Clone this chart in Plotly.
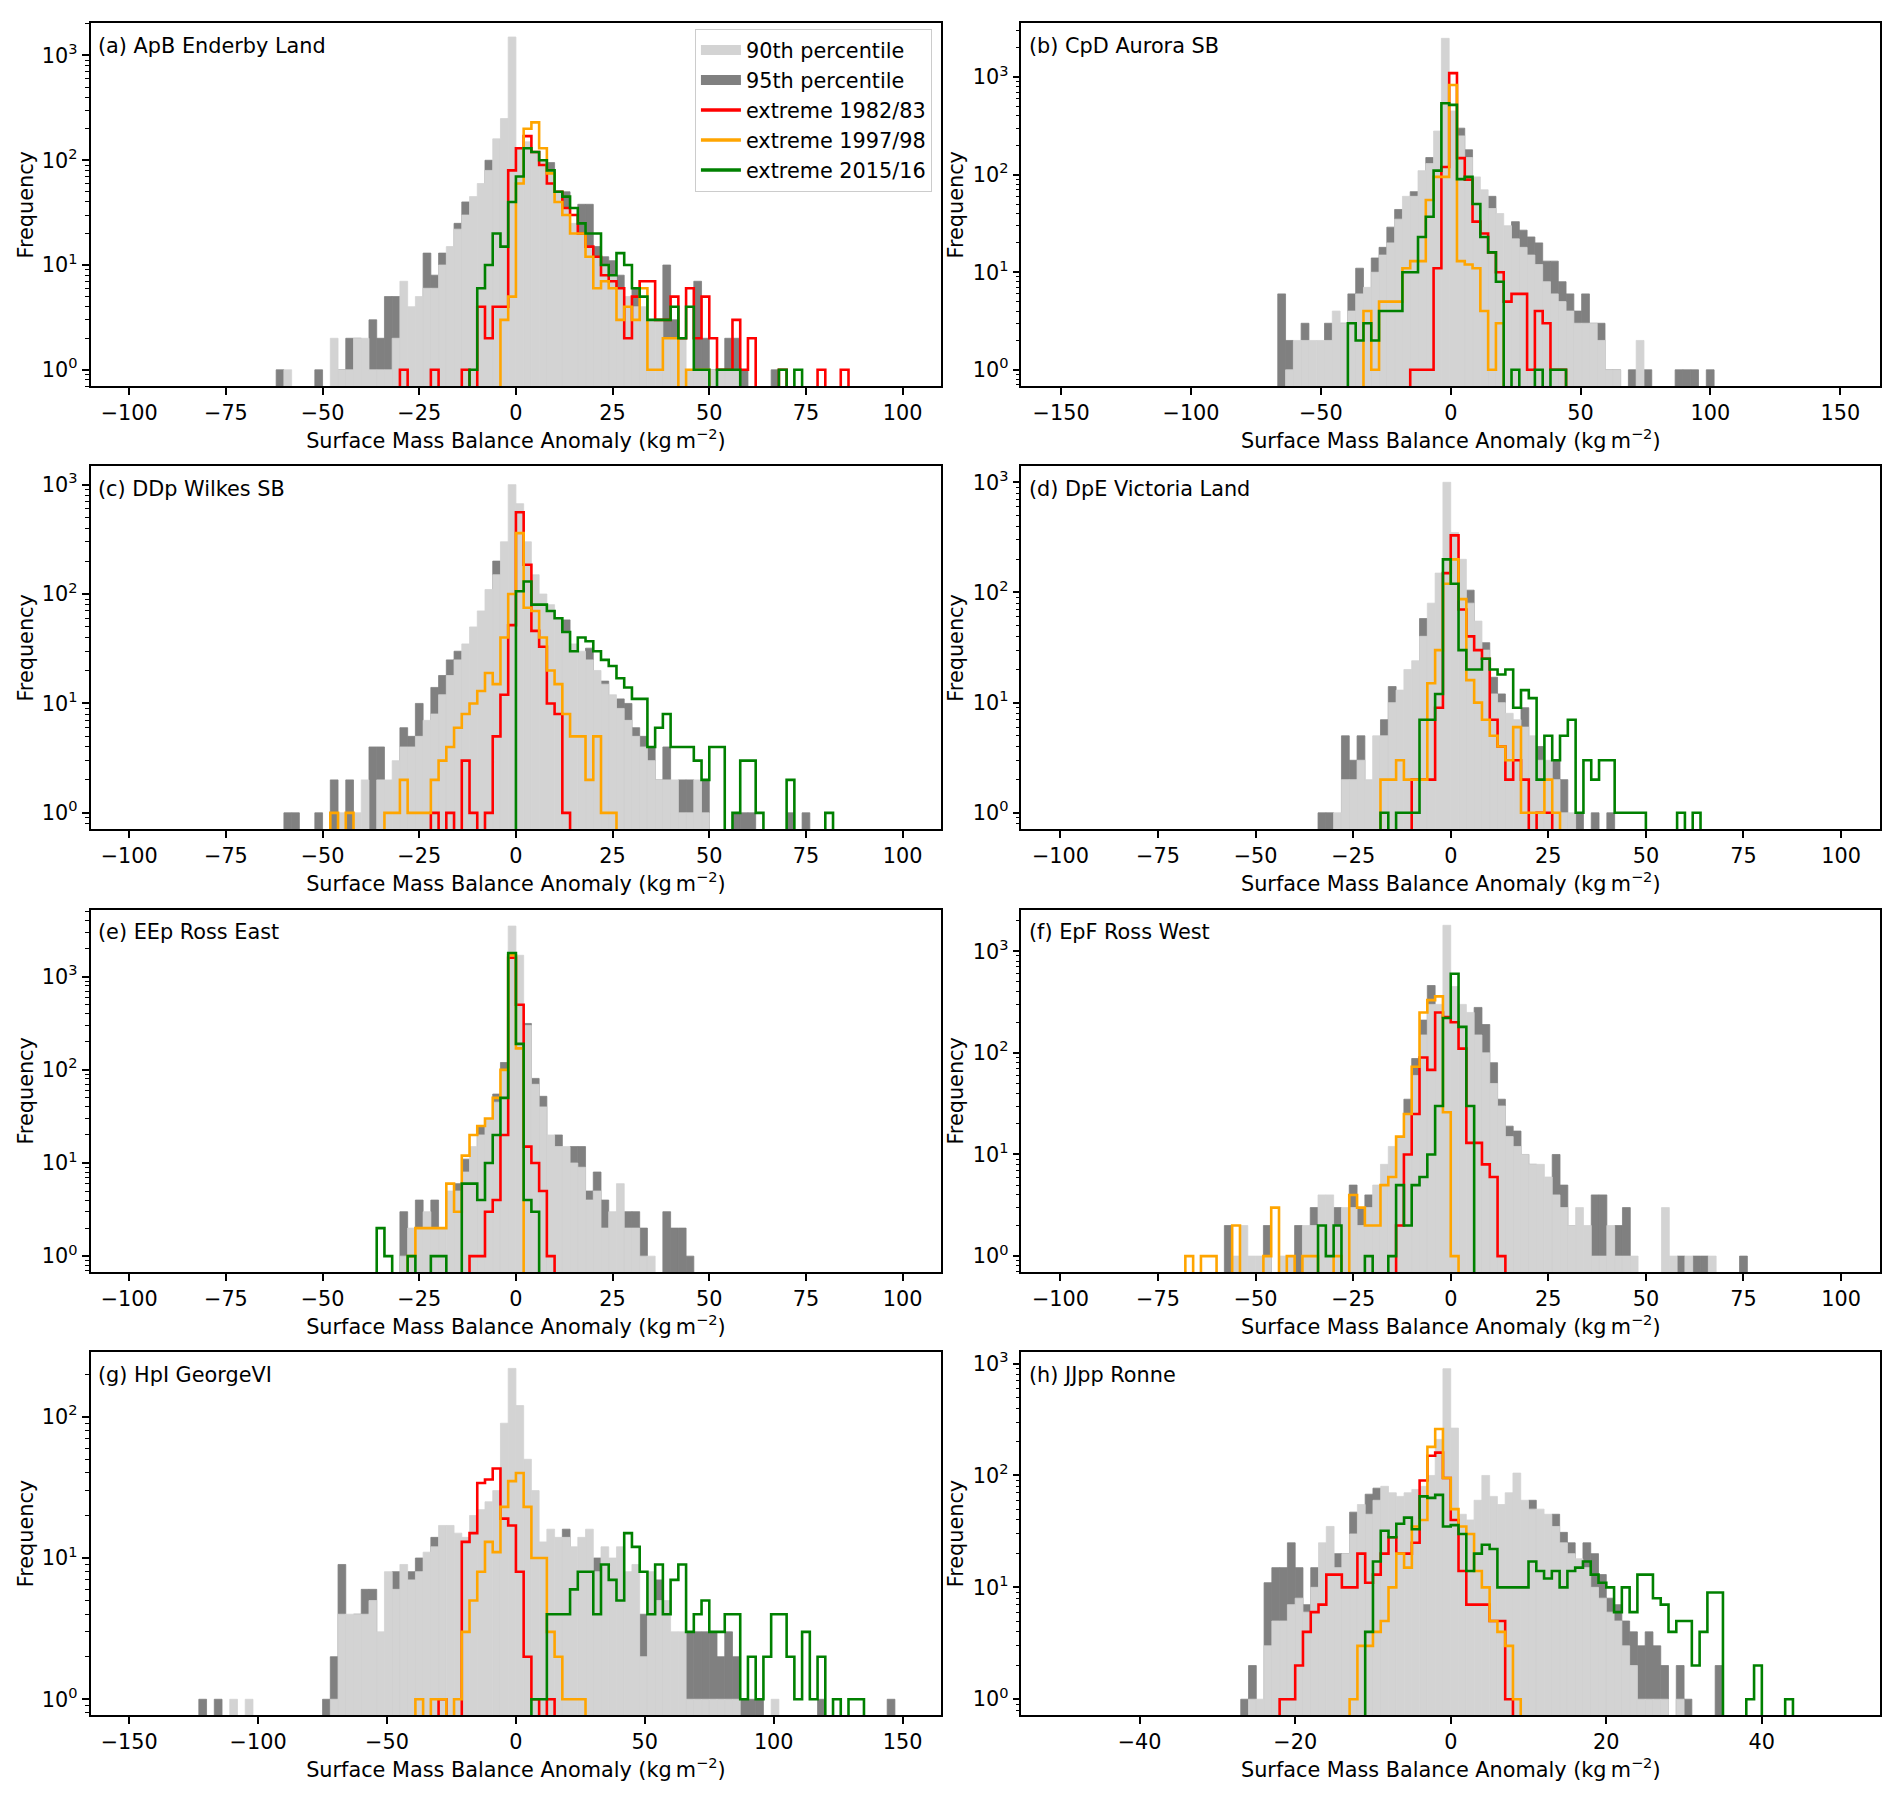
import plotly.graph_objects as go

# ---------------- data: bin left edge -> count ----------------
A_WIDTH = 2
A_P90 = {-60: 1, -48: 2, -46: 1, -44: 1, -42: 2, -40: 2, -38: 1, -36: 1, -34: 1, -32: 2, -30: 7, -28: 4, -26: 5,
         -24: 6, -22: 6, -20: 10, -18: 15, -16: 22, -14: 30, -12: 45, -10: 60, -8: 80, -6: 160, -4: 250, -2: 1500,
         0: 130, 2: 150, 4: 120, 6: 100, 8: 80, 10: 50, 12: 35, 14: 25, 16: 20, 18: 15, 20: 12, 22: 10, 24: 8,
         26: 6, 28: 5, 30: 4, 32: 4, 34: 3, 36: 3, 38: 2, 40: 2, 42: 2, 44: 1, 46: 1, 48: 1, 50: 1, 52: 1, 54: 1, 56: 1}
A_P95 = {-62: 1, -52: 1, -46: 1, -44: 2, -42: 2, -38: 3, -36: 2, -34: 5, -32: 5, -24: 13, -22: 8, -20: 13, -16: 25,
         -14: 40, -8: 100, 8: 95, 12: 50, 16: 38, 18: 38, 20: 15, 22: 12, 24: 11, 26: 8, 30: 6, 38: 10, 40: 3,
         46: 7, 48: 2, 50: 1, 54: 2, 56: 2, 58: 1, 66: 1}
A_R82 = {-30: 1, -22: 1, -14: 1, -10: 4, -8: 2, -6: 4, -4: 4, -2: 80, 0: 130, 2: 170, 4: 120, 6: 90, 8: 60, 10: 50,
         12: 35, 14: 30, 16: 20, 18: 15, 20: 12, 22: 8, 24: 7, 26: 6, 28: 2, 30: 5, 32: 7, 34: 7, 36: 3, 38: 3,
         40: 5, 42: 2, 44: 6, 46: 2, 48: 5, 50: 2, 52: 1, 54: 1, 56: 3, 58: 1, 60: 2, 68: 1, 78: 1, 84: 1}
A_R97 = {-4: 3, -2: 5, 0: 60, 2: 200, 4: 230, 6: 130, 8: 75, 10: 40, 12: 30, 14: 20, 16: 20, 18: 12, 20: 6, 22: 7,
         24: 6, 26: 3, 28: 4, 30: 3, 32: 6, 34: 1, 36: 1, 38: 2, 40: 2, 44: 1, 46: 1, 48: 1}
A_R15 = {-12: 1, -10: 6, -8: 10, -6: 20, -4: 15, -2: 40, 0: 70, 2: 130, 4: 120, 6: 100, 8: 80, 10: 50, 12: 45,
         14: 35, 16: 25, 18: 20, 20: 20, 22: 10, 24: 8, 26: 13, 28: 10, 30: 6, 32: 5, 34: 3, 36: 3, 38: 3, 40: 4,
         42: 2, 44: 4, 46: 1, 48: 1, 52: 1, 54: 1, 56: 1, 68: 1, 72: 1}

B_WIDTH = 3
B_P90 = {-63.6: 1, -60.6: 2, -57.6: 2, -54.6: 2, -51.6: 2, -48.6: 2, -45.6: 4, -42.6: 3, -39.6: 4, -36.6: 6,
         -33.6: 7, -30.6: 10, -27.6: 15, -24.6: 20, -21.6: 35, -18.6: 60, -15.6: 60, -12.6: 110, -9.6: 130,
         -6.6: 280, -3.6: 2500, -0.6: 450, 2.4: 250, 5.4: 150, 8.4: 95, 11.4: 70, 14.4: 45, 17.4: 40, 20.4: 30,
         23.4: 22, 26.4: 18, 29.4: 15, 32.4: 12, 35.4: 8, 38.4: 6, 41.4: 5, 44.4: 4, 47.4: 3, 50.4: 3, 53.4: 3,
         56.4: 2, 59.4: 1, 62.4: 1, 71.4: 2}
B_P95 = {-66.6: 6, -63.6: 2, -57.6: 3, -48.6: 3, -42.6: 3, -39.6: 6, -36.6: 11, -30.6: 14, -27.6: 18, -24.6: 29,
         -21.6: 44, -15.6: 67, -9.6: 150, 2.4: 300, 5.4: 180, 14.4: 60, 23.4: 33, 26.4: 27, 29.4: 23, 32.4: 20,
         35.4: 13, 38.4: 13, 41.4: 8, 44.4: 6, 47.4: 4, 50.4: 6, 53.4: 3, 56.4: 3, 59.4: 1, 62.4: 1, 68.4: 1,
         74.4: 1, 86.4: 1, 89.4: 1, 92.4: 1, 98.4: 1}
B_R82 = {-15.6: 1, -12.6: 1, -9.6: 1, -6.6: 11, -3.6: 120, -0.6: 1100, 2.4: 148, 5.4: 89, 8.4: 33, 11.4: 25,
         14.4: 16, 17.4: 10, 20.4: 5, 23.4: 6, 26.4: 6, 29.4: 1, 32.4: 4, 35.4: 3, 38.4: 1, 41.4: 1}
B_R97 = {-33.6: 4, -30.6: 1, -27.6: 5, -24.6: 5, -21.6: 5, -18.6: 11, -15.6: 13, -12.6: 13, -9.6: 55, -6.6: 95,
         -3.6: 95, -0.6: 830, 2.4: 13, 5.4: 12, 8.4: 11, 11.4: 4, 14.4: 1, 17.4: 3}
B_R15 = {-39.6: 3, -36.6: 2, -33.6: 3, -30.6: 2, -27.6: 4, -24.6: 4, -21.6: 4, -18.6: 10, -15.6: 10, -12.6: 23,
         -9.6: 37, -6.6: 110, -3.6: 540, -0.6: 520, 2.4: 90, 5.4: 95, 8.4: 50, 11.4: 23, 14.4: 16, 17.4: 8,
         23.4: 1, 32.4: 1, 38.4: 1, 41.4: 1}

C_WIDTH = 2
C_P90 = {-46: 1, -42: 1, -40: 2, -36: 2, -34: 2, -32: 3, -30: 4, -28: 4, -26: 5, -24: 7, -22: 8, -20: 12, -18: 18,
         -16: 25, -14: 35, -12: 50, -10: 70, -8: 110, -6: 150, -4: 300, -2: 1000, 0: 670, 2: 300, 4: 150, 6: 100,
         8: 80, 10: 60, 12: 45, 14: 35, 16: 30, 18: 25, 20: 20, 22: 15, 24: 12, 26: 9, 28: 7, 30: 5, 32: 4, 34: 3,
         36: 2, 38: 2, 40: 2, 42: 1, 44: 1, 46: 2, 48: 1}
C_P95 = {-60: 1, -58: 1, -52: 1, -48: 2, -44: 2, -38: 4, -36: 4, -30: 6, -28: 5, -26: 10, -22: 14, -20: 18,
         -18: 25, -16: 30, -6: 200, 12: 58, 18: 32, 22: 16, 26: 11, 28: 10, 30: 6, 32: 5, 34: 4, 36: 2, 38: 4,
         40: 1, 42: 2, 44: 2, 48: 2, 56: 1, 58: 1, 60: 1, 70: 1, 74: 1}
C_R82 = {-22: 1, -18: 1, -14: 3, -12: 1, -8: 1, -6: 5, -4: 12, -2: 52, 0: 560, 2: 185, 4: 46, 6: 33, 8: 10,
         10: 8, 12: 1}
C_R97 = {-48: 1, -44: 1, -34: 1, -32: 1, -30: 2, -28: 1, -26: 1, -24: 1, -22: 2, -20: 3, -18: 4, -16: 6, -14: 8,
         -12: 10, -10: 13, -8: 19, -6: 15, -4: 40, -2: 100, 0: 360, 2: 75, 4: 70, 6: 40, 8: 20, 10: 15, 12: 8,
         14: 5, 16: 5, 18: 2, 20: 5, 22: 1, 24: 1}
C_R15 = {0: 106, 2: 130, 4: 80, 6: 80, 8: 70, 10: 60, 12: 45, 14: 30, 16: 40, 18: 37, 20: 30, 22: 25, 24: 22,
         26: 17, 28: 14, 30: 11, 32: 11, 34: 4, 36: 6, 38: 8, 40: 4, 42: 4, 44: 4, 46: 3, 48: 2, 50: 4, 52: 4,
         56: 1, 58: 3, 60: 3, 62: 1, 70: 2, 80: 1}

D_WIDTH = 2
D_P90 = {-30: 1, -28: 2, -26: 2, -24: 3, -22: 2, -20: 5, -18: 5, -16: 10, -14: 13, -12: 20, -10: 24, -8: 40,
         -6: 80, -4: 150, -2: 1000, 0: 350, 2: 200, 4: 80, 6: 55, 8: 30, 10: 12, 12: 10, 14: 8, 16: 7, 18: 6,
         20: 5, 22: 3, 24: 3, 26: 2, 28: 1, 30: 1}
D_P95 = {-34: 1, -32: 1, -28: 5, -26: 3, -24: 5, -18: 7, -16: 14, -8: 58, 4: 105, 8: 35, 10: 17, 12: 12, 18: 9,
         22: 4, 26: 3, 28: 2, 32: 1, 36: 1, 40: 1}
D_R82 = {-10: 2, -8: 2, -6: 2, -4: 9, -2: 150, 0: 330, 2: 70, 4: 40, 6: 30, 8: 25, 10: 7, 12: 4, 14: 2, 16: 3,
         18: 2, 22: 1, 24: 1}
D_R97 = {-18: 2, -16: 2, -14: 3, -12: 2, -10: 2, -8: 2, -6: 15, -4: 30, -2: 120, 0: 200, 2: 87, 4: 16, 6: 10,
         8: 7, 10: 5, 12: 4, 14: 3, 16: 6, 18: 1, 20: 1, 22: 1, 24: 2, 26: 1}
D_R15 = {-18: 1, -14: 1, -12: 1, -10: 1, -8: 7, -6: 7, -4: 12, -2: 200, 0: 120, 2: 30, 4: 20, 6: 20, 8: 25,
         10: 20, 12: 18, 14: 20, 16: 9, 18: 13, 20: 11, 22: 2, 24: 5, 26: 3, 28: 5, 30: 7, 32: 1, 34: 3, 36: 2,
         38: 3, 40: 3, 42: 1, 44: 1, 46: 1, 48: 1, 58: 1, 62: 1}

E_WIDTH = 2
E_P90 = {-30: 1, -28: 2, -26: 2, -24: 3, -22: 2, -20: 2, -18: 5, -16: 5, -14: 8, -12: 15, -10: 20, -8: 30,
         -6: 45, -4: 100, -2: 3500, 0: 1700, 2: 300, 4: 70, 6: 40, 8: 20, 10: 15, 12: 15, 14: 10, 16: 9, 18: 4,
         20: 5, 22: 2, 24: 3, 26: 6, 28: 2, 30: 2, 32: 1, 34: 1}
E_P95 = {-30: 3, -26: 4, -22: 4, -16: 6, -14: 11, -10: 25, -6: 55, -4: 120, 2: 315, 4: 81, 6: 52, 10: 20,
         14: 15, 16: 15, 18: 5, 20: 8, 22: 4, 28: 3, 30: 3, 32: 2, 38: 3, 40: 2, 42: 2, 44: 1}
E_R82 = {-12: 1, -10: 1, -8: 3, -6: 4, -4: 20, -2: 1600, 0: 500, 2: 15, 4: 10, 6: 5, 8: 1}
E_R97 = {-28: 1, -26: 2, -24: 2, -22: 2, -20: 2, -18: 6, -16: 3, -14: 12, -12: 20, -10: 25, -8: 30, -6: 50,
         -4: 100, -2: 1700, 0: 170}
E_R15 = {-36: 2, -34: 1, -28: 1, -22: 1, -20: 1, -14: 6, -12: 6, -10: 4, -8: 10, -6: 20, -4: 50, -2: 1800,
         0: 190, 2: 4, 4: 3}

F_WIDTH = 2
F_P90 = {-56: 1, -54: 2, -52: 1, -50: 1, -48: 1, -44: 1, -42: 1, -38: 2, -36: 2, -34: 4, -32: 4, -30: 2, -28: 3,
         -26: 3, -24: 2, -22: 3, -20: 5, -18: 8, -16: 12, -14: 15, -12: 25, -10: 60, -8: 150, -6: 300, -4: 300,
         -2: 1800, 0: 450, 2: 300, 4: 250, 6: 150, 8: 100, 10: 50, 12: 30, 14: 15, 16: 12, 18: 10, 20: 8, 22: 8,
         24: 6, 26: 4, 28: 3, 30: 2, 32: 3, 34: 2, 36: 1, 38: 1, 40: 2, 42: 1, 44: 1, 46: 1, 54: 3, 56: 1, 60: 1,
         66: 1}
F_P95 = {-58: 2, -48: 2, -40: 2, -36: 3, -30: 3, -26: 5, -24: 3, -22: 4, -20: 4, -12: 35, -10: 88, -8: 210,
         -6: 460, 6: 280, 8: 190, 10: 80, 12: 35, 14: 19, 16: 17, 18: 10, 20: 8, 26: 10, 28: 5, 30: 2, 36: 4,
         38: 4, 42: 2, 44: 3, 58: 1, 62: 1, 64: 1, 74: 1}
F_R82 = {-14: 2, -12: 10, -10: 25, -8: 90, -6: 68, -4: 250, -2: 225, 0: 200, 2: 110, 4: 13, 6: 13, 8: 8,
         10: 6, 12: 1}
F_R97 = {-68: 1, -64: 1, -62: 1, -56: 2, -48: 1, -46: 3, -42: 1, -38: 1, -36: 1, -30: 1, -26: 4, -24: 3,
         -22: 2, -20: 2, -18: 5, -16: 6, -14: 15, -12: 25, -10: 73, -8: 250, -6: 330, -4: 360, -2: 26, 0: 1}
F_R15 = {-34: 2, -32: 1, -30: 2, -22: 1, -16: 1, -14: 5, -12: 2, -10: 5, -8: 6, -6: 10, -4: 30, -2: 220,
         0: 600, 2: 180, 4: 30}

G_WIDTH = 3
G_P90 = {-111: 1, -105: 1, -72: 1, -69: 4, -66: 4, -63: 4, -60: 4, -57: 5, -54: 3, -51: 8, -48: 6, -45: 9,
         -42: 7, -39: 8, -36: 11, -33: 12, -30: 17, -27: 17, -24: 15, -21: 14, -18: 20, -15: 22, -12: 25,
         -9: 30, -6: 90, -3: 220, 0: 120, 3: 50, 6: 30, 9: 13, 12: 16, 15: 14, 18: 14, 21: 12, 24: 14, 27: 16,
         30: 8, 33: 12, 36: 10, 39: 12, 42: 8, 45: 9, 48: 2, 51: 8, 54: 5, 57: 5, 60: 3, 63: 3, 66: 1, 69: 1,
         72: 1, 75: 1, 78: 1, 81: 1, 84: 1, 99: 1}
G_P95 = {-123: 1, -117: 1, -75: 1, -72: 2, -69: 9, -63: 4, -60: 6, -57: 6, -48: 8, -42: 8, -39: 10, -33: 14,
         18: 16, 30: 10, 48: 4, 54: 7, 66: 3, 69: 3, 72: 3, 75: 3, 78: 2, 81: 3, 84: 2, 87: 1, 90: 1, 93: 1,
         117: 1, 144: 1}
G_R82 = {-30: 1, -21: 13, -18: 15, -15: 34, -12: 36, -9: 43, -6: 19, -3: 17, 0: 8, 3: 2, 6: 1, 12: 1}
G_R97 = {-39: 1, -33: 1, -30: 1, -24: 1, -21: 3, -18: 5, -15: 8, -12: 13, -9: 11, -6: 23, -3: 35, 0: 40,
         3: 23, 6: 10, 9: 10, 12: 3, 15: 2, 18: 1, 21: 1, 24: 1}
G_R15 = {6: 1, 9: 1, 12: 4, 15: 4, 18: 4, 21: 6, 24: 8, 27: 8, 30: 4, 33: 9, 36: 7, 39: 5, 42: 15, 45: 12,
         48: 8, 51: 4, 54: 9, 57: 4, 60: 7, 63: 9, 66: 3, 69: 4, 72: 5, 75: 3, 78: 3, 81: 4, 84: 4, 87: 1,
         90: 2, 93: 1, 96: 2, 99: 4, 102: 4, 105: 2, 108: 1, 111: 3, 114: 1, 117: 2, 123: 1, 129: 1, 132: 1}

H_WIDTH = 1
H_P90 = {-26: 1, -25: 1, -24: 3, -23: 5, -22: 5, -21: 7, -20: 8, -19: 6, -18: 10, -17: 25, -16: 35, -15: 15,
         -14: 20, -13: 30, -12: 55, -11: 45, -10: 60, -9: 80, -8: 70, -7: 65, -6: 70, -5: 75, -4: 80, -3: 100,
         -2: 210, -1: 900, 0: 265, 1: 45, 2: 40, 3: 60, 4: 100, 5: 65, 6: 55, 7: 70, 8: 105, 9: 60, 10: 50,
         11: 50, 12: 45, 13: 35, 14: 25, 15: 20, 16: 18, 17: 15, 18: 10, 19: 8, 20: 6, 21: 5, 22: 3, 23: 2,
         24: 1, 25: 1, 26: 1, 27: 1, 29: 1}
H_P95 = {-27: 1, -26: 2, -24: 11, -23: 15, -22: 15, -21: 25, -20: 15, -19: 7, -18: 15, -15: 20, -14: 20,
         -13: 47, -11: 68, -10: 77, 10: 60, 13: 45, 14: 31, 15: 25, 17: 25, 18: 20, 19: 13, 20: 8, 21: 7, 22: 5,
         23: 4, 24: 3, 25: 4, 26: 3, 27: 2, 29: 2, 30: 1, 34: 2}
H_R82 = {-22: 1, -21: 1, -20: 2, -19: 4, -18: 6, -17: 7, -16: 13, -15: 13, -14: 10, -13: 10, -12: 20, -11: 11,
         -10: 13, -9: 20, -8: 28, -7: 20, -6: 20, -5: 25, -4: 90, -3: 150, -2: 160, -1: 95, 0: 40, 1: 14, 2: 7,
         3: 7, 4: 7, 5: 5, 6: 5, 7: 1}
H_R97 = {-13: 1, -12: 3, -11: 3, -10: 4, -9: 5, -8: 10, -7: 20, -6: 15, -5: 35, -4: 40, -3: 180, -2: 260,
         -1: 95, 0: 50, 1: 35, 2: 30, 3: 14, 4: 10, 5: 5, 6: 4, 7: 3, 8: 1}
H_R15 = {-11: 4, -10: 17, -9: 32, -8: 28, -7: 37, -6: 42, -5: 33, -4: 65, -3: 63, -2: 67, -1: 35, 0: 36,
         1: 30, 2: 14, 3: 20, 4: 24, 5: 22, 6: 10, 7: 10, 8: 10, 9: 10, 10: 17, 11: 14, 12: 12, 13: 14, 14: 10,
         15: 14, 16: 15, 17: 17, 18: 13, 19: 11, 20: 10, 21: 6, 22: 10, 23: 6, 24: 13, 25: 13, 26: 8, 27: 7,
         28: 4, 29: 5, 30: 5, 31: 2, 32: 4, 33: 9, 34: 9, 38: 1, 39: 2, 43: 1}

PANEL_TITLES = ["(a) ApB Enderby Land", "(b) CpD Aurora SB", "(c) DDp Wilkes SB", "(d) DpE Victoria Land",
                "(e) EEp Ross East", "(f) EpF Ross West", "(g) HpI GeorgeVI", "(h) JJpp Ronne"]
SERIES_NAMES = ["90th percentile", "95th percentile", "extreme 1982/83", "extreme 1997/98", "extreme 2015/16"]

PANELS = [
    (A_WIDTH, A_P90, A_P95, A_R82, A_R97, A_R15),
    (B_WIDTH, B_P90, B_P95, B_R82, B_R97, B_R15),
    (C_WIDTH, C_P90, C_P95, C_R82, C_R97, C_R15),
    (D_WIDTH, D_P90, D_P95, D_R82, D_R97, D_R15),
    (E_WIDTH, E_P90, E_P95, E_R82, E_R97, E_R15),
    (F_WIDTH, F_P90, F_P95, F_R82, F_R97, F_R15),
    (G_WIDTH, G_P90, G_P95, G_R82, G_R97, G_R15),
    (H_WIDTH, H_P90, H_P95, H_R82, H_R97, H_R15),
]

# ---------------- styling / layout ----------------
FONT = "DejaVu Sans"
FS = 20.8
LIGHT, DARK = "#d3d3d3", "#808080"
LINE_COLORS = ["#ff0000", "#ffa500", "#008000"]

XHALF = [110, 165.3, 110, 110, 110, 110, 165, 55.2]
XDTICK = [25, 50, 25, 25, 25, 25, 50, 20]
YRANGE = [(-0.159, 3.308), (-0.171, 3.553), (-0.152, 3.167), (-0.151, 3.145),
          (-0.171, 3.72), (-0.157, 3.409), (-0.113, 2.459), (-0.143, 3.104)]
# figure drawn inside the page's 8px body margin
FIG_W, FIG_H = 1876, 1783
XDOM = [(0.0440, 0.4975), (0.5402, 0.9979)]
YDOM = [(0.7895, 0.9937), (0.5405, 0.7446), (0.2917, 0.4954), (0.0426, 0.2468)]

MINOR = [m * 10 ** e for e in range(-1, 4) for m in range(2, 10)]


def step_outline(d, w, floor=0.05):
    table = {round(k, 3): v for k, v in d.items()}
    lo, hi = min(table), max(table)
    n = int(round((hi - lo) / w)) + 1
    xs, ys = [lo], [floor]
    for i in range(n):
        left = lo + i * w
        c = table.get(round(left, 3), 0) or floor
        xs += [left, left + w]
        ys += [c, c]
    xs.append(lo + n * w)
    ys.append(floor)
    return xs, ys


fig = go.Figure()
tfont = dict(family=FONT, size=FS, color="black")

for i, (w, p90, p95, r82, r97, r15) in enumerate(PANELS, start=1):
    xa = "x" if i == 1 else f"x{i}"
    ya = "y" if i == 1 else f"y{i}"
    for d, col in ((p95, DARK), (p90, LIGHT)):
        ks = sorted(d)
        fig.add_trace(go.Bar(x=[k + w / 2 for k in ks], y=[d[k] for k in ks], width=[w] * len(ks),
                             marker=dict(color=col, line=dict(width=0.8, color=col)), xaxis=xa, yaxis=ya,
                             showlegend=False, hoverinfo="skip"))
    for d, col in zip((r82, r97, r15), LINE_COLORS):
        xs, ys = step_outline(d, w)
        fig.add_trace(go.Scatter(x=xs, y=ys, mode="lines", line=dict(color=col, width=2.6),
                                 xaxis=xa, yaxis=ya, showlegend=False, hoverinfo="skip"))

# legend entries (panel a)
for name, col, lw in zip(SERIES_NAMES, [LIGHT, DARK] + LINE_COLORS, [14, 14, 3.5, 3.5, 3.5]):
    fig.add_trace(go.Scatter(x=[None], y=[None], mode="lines", line=dict(color=col, width=lw), name=name,
                             xaxis="x", yaxis="y", showlegend=True))

layout = dict(
    width=FIG_W, height=FIG_H, margin=dict(l=0, r=0, t=0, b=0),
    paper_bgcolor="white", plot_bgcolor="white", barmode="overlay",
    font=tfont,
    legend=dict(x=0.4925, xanchor="right", y=0.9905, yanchor="top", bgcolor="rgba(255,255,255,0.8)",
                bordercolor="#cccccc", borderwidth=1, font=tfont, tracegroupgap=0, itemwidth=40),
    annotations=[],
)

for i in range(1, 9):
    col, row = (i - 1) % 2, (i - 1) // 2
    xk = "xaxis" if i == 1 else f"xaxis{i}"
    yk = "yaxis" if i == 1 else f"yaxis{i}"
    xa = "x" if i == 1 else f"x{i}"
    ya = "y" if i == 1 else f"y{i}"
    layout[xk] = dict(
        domain=list(XDOM[col]), anchor=ya, range=[-XHALF[i - 1], XHALF[i - 1]],
        tickmode="linear", tick0=0, dtick=XDTICK[i - 1], ticks="outside", ticklen=7, tickwidth=1.6,
        tickcolor="black", showline=True, linecolor="black", linewidth=1.6, mirror=True,
        showgrid=False, zeroline=False, tickfont=tfont,
        title=dict(text="Surface Mass Balance Anomaly (kg\u2009m<sup>\u22122</sup>)", font=tfont, standoff=8),
    )
    layout[yk] = dict(
        domain=list(YDOM[row]), anchor=xa, type="log", range=list(YRANGE[i - 1]),
        tickmode="array", tickvals=[1, 10, 100, 1000],
        ticktext=["10<sup>0</sup>", "10<sup>1</sup>", "10<sup>2</sup>", "10<sup>3</sup>"],
        ticks="outside", ticklen=7, tickwidth=1.6, tickcolor="black",
        minor=dict(tickmode="array", tickvals=MINOR, ticks="outside", ticklen=4, tickwidth=1.2,
                   tickcolor="black", showgrid=False),
        showline=True, linecolor="black", linewidth=1.6, mirror=True, showgrid=False, zeroline=False,
        tickfont=tfont, title=dict(text="Frequency", font=tfont, standoff=3),
    )
    layout["annotations"].append(dict(
        text=PANEL_TITLES[i - 1], xref=f"{xa} domain", yref=f"{ya} domain", x=0.007, y=0.976,
        xanchor="left", yanchor="top", showarrow=False, font=tfont))

fig.update_layout(**layout)
fig.write_html("out.html")
